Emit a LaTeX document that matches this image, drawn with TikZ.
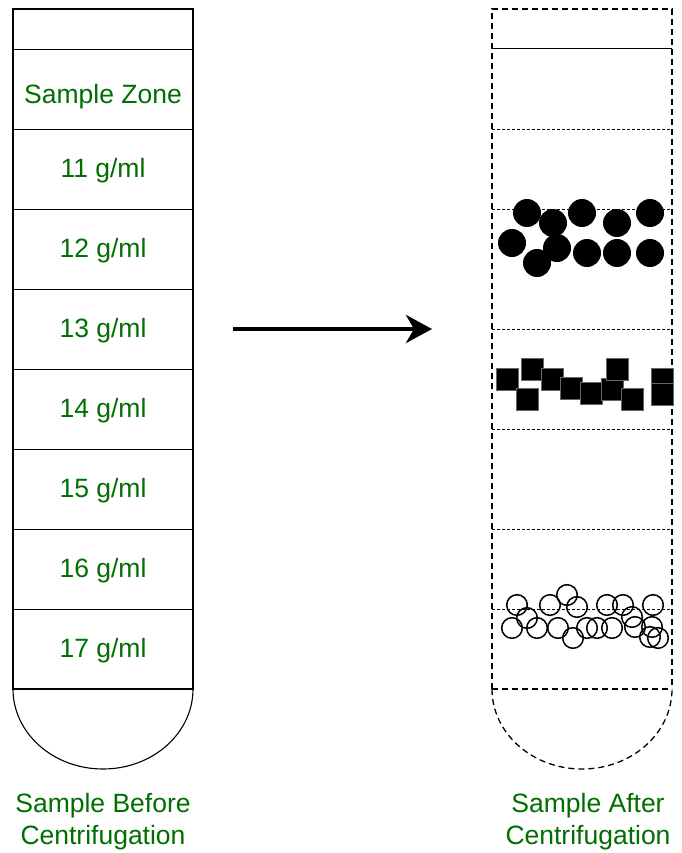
\documentclass[tikz,border=0pt]{standalone}
\usepackage{fontspec}
\setmainfont{Liberation Sans}
\usetikzlibrary{arrows.meta}
\definecolor{labelgreen}{RGB}{0,110,0}
\begin{document}
\begin{tikzpicture}[x=1pt, y=-1pt,
  layertext/.style={text=labelgreen, font=\fontsize{26.5}{32}\selectfont},
  outerdash/.style={line width=1.3pt, dash pattern=on 6pt off 4pt},
  innerdash/.style={line width=0.7pt, dash pattern=on 3pt off 2pt}]
\useasboundingbox (0,0) rectangle (681,853);

% Tubo 1: antes de centrifugar
\draw[line width=1.2pt] (13,9) rectangle (193,689);
\foreach \y in {49,129,...,609} \draw[line width=0.8pt] (13,\y) -- (193,\y);
\draw[line width=1.1pt] (13,689) .. controls (13,733) and (53,769) .. (103,769)
  .. controls (153,769) and (193,733) .. (193,689);

\node[layertext] (zone) at (103,97) {Sample Zone};
\node[layertext] (d11) at (103,171) {11 g/ml};
\node[layertext] (d12) at (103,251) {12 g/ml};
\node[layertext] (d13) at (103,331) {13 g/ml};
\node[layertext] (d14) at (103,411) {14 g/ml};
\node[layertext] (d15) at (103,491) {15 g/ml};
\node[layertext] (d16) at (103,571) {16 g/ml};
\node[layertext] (d17) at (103,651) {17 g/ml};
\node[layertext, align=center] (before) at (103,822) {Sample Before\\Centrifugation};

% Flecha
\coordinate (arrowstart) at (233,329);
\coordinate (arrowend) at (432,329);
\draw[line width=4.5pt, -{Stealth[length=26pt, width=28pt, inset=8pt]}] (arrowstart) -- (arrowend);

% Tubo 2: despues de centrifugar
\draw[outerdash] (492,689) -- (492,9) -- (672,9) -- (672,689);
\draw[line width=1pt] (492,49) -- (672,49);
\foreach \y in {129,209,329,429,529,609} \draw[innerdash] (492,\y) -- (672,\y);
\draw[outerdash] (492,689) -- (672,689);
\draw[outerdash] (492,689) .. controls (492,733) and (532,769) .. (582,769)
  .. controls (632,769) and (672,733) .. (672,689);

% particulas pesadas (circulos llenos)
\foreach \px/\py in {527/213, 553/223, 582/213, 617/223, 650/213, 512/243,
  557/248, 537/263, 587/253, 617/253, 650/253}
  \fill (\px,\py) circle (14pt);

% particulas medias (cuadrados)
\foreach \px/\py in {507/379, 527/399, 532/369, 552/379, 571/388, 591/393,
  612/389, 617/369, 632/399, 662/379, 662/394}
  \fill[draw=black!60, line width=0.4pt] (\px-10.7,\py-10.7) rectangle (\px+10.7,\py+10.7);

% particulas ligeras (circulos abiertos)
\foreach \px/\py in {517/605, 527/618, 512/628, 537/628, 550/605, 567/595,
  577/607, 558/628, 573/638, 587/628, 597/628, 607/605, 612/628, 623/605,
  632/617, 635/627, 653/605, 652/627, 650/637, 658/638}
  \draw[line width=1.5pt] (\px,\py) circle (10.3pt);

\node[layertext, align=center] (after) at (588,822) {Sample After\\Centrifugation};
\end{tikzpicture}
\end{document}
